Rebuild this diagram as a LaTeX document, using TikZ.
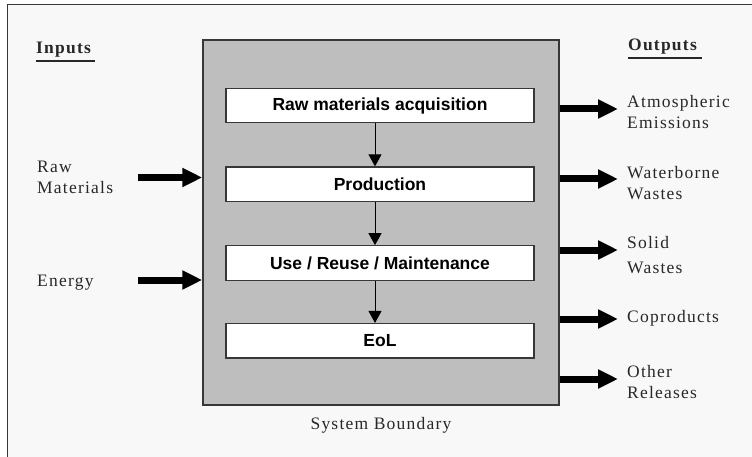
\documentclass[tikz,border=0pt]{standalone}
\usepackage{fontspec}
\setmainfont{Liberation Serif}
\setsansfont{Liberation Sans}
\usetikzlibrary{arrows.meta,positioning}
\definecolor{pagegray}{RGB}{248,248,248}
\definecolor{boxgray}{RGB}{190,190,190}
\definecolor{edgegray}{RGB}{55,55,55}
\definecolor{labelgray}{RGB}{40,40,40}
\begin{document}
\begin{tikzpicture}[x=1pt,y=-1pt,
  stage/.style={draw=edgegray,line width=1.2pt,fill=white,minimum width=308pt,
    minimum height=34.5pt,inner sep=0pt,font=\sffamily\bfseries\fontsize{17.5}{20}\selectfont},
  flowlbl/.style={anchor=west,align=left,inner sep=0pt,text=labelgray,
    font=\fontsize{17.5}{21}\selectfont\addfontfeature{LetterSpace=7}},
  headlbl/.style={flowlbl,font=\bfseries\fontsize{17.5}{21}\selectfont\addfontfeature{LetterSpace=7}},
  fatarrow/.style={line width=7pt,-{Triangle[length=20pt,width=18pt]}},
  steparrow/.style={line width=1pt,-{Triangle[length=12pt,width=13pt]}}]
\useasboundingbox (0,0) rectangle (752,457);
\fill[white](0,0) rectangle (752,457);
\fill[pagegray](7,5) rectangle (752,457);
\draw[edgegray,line width=1pt](7,457)--(7,5)--(752,5);
\node[draw=edgegray,line width=1.5pt,fill=boxgray,minimum width=356pt,minimum height=365pt,inner sep=0pt](sys) at (381,222.5){};
\node[stage](s1) at (380,105.5){Raw materials acquisition};
\node[stage](s2) at (380,184.2){Production};
\node[stage](s3) at (380,263){Use / Reuse / Maintenance};
\node[stage](s4) at (380,340.8){EoL};
\draw[steparrow]([xshift=-5pt]s1.south)--([xshift=-5pt]s2.north);
\draw[steparrow]([xshift=-5pt]s2.south)--([xshift=-5pt]s3.north);
\draw[steparrow]([xshift=-5pt]s3.south)--([xshift=-5pt]s4.north);
\node[flowlbl,anchor=center](bound) at (381,425){System Boundary};
% inputs
\node[headlbl](inputs) at (36,50){Inputs};
\draw[labelgray,line width=1.5pt](inputs.south west)++(0,3)--++(59,0);
\node[flowlbl](rawlbl) at (37,177.5){Raw\\Materials};
\node[flowlbl](energylbl) at (37,283){Energy};
\coordinate (iRaw) at (138,177.5);
\coordinate (iEnergy) at (138,280);
\draw[fatarrow](iRaw)--(sys.west|-iRaw);
\draw[fatarrow](iEnergy)--(sys.west|-iEnergy);
% outputs
\node[headlbl](outputs) at (628,47){Outputs};
\draw[labelgray,line width=1.5pt](outputs.south west)++(0,3)--++(74,0);
\node[flowlbl](atmlbl) at (627,112){Atmospheric\\Emissions};
\node[flowlbl](waterlbl) at (627,183){Waterborne\\Wastes};
\node[flowlbl](solidlbl) at (627,255.5){Solid\\[4pt]Wastes};
\node[flowlbl](coplbl) at (627,318){Coproducts};
\node[flowlbl](otherlbl) at (627,382.5){Other\\Releases};
\coordinate (oAtm) at (618,109);
\coordinate (oWater) at (618,179);
\coordinate (oSolid) at (618,250);
\coordinate (oCop) at (618,319);
\coordinate (oOther) at (618,379);
\foreach \o in {oAtm,oWater,oSolid,oCop,oOther}
  \draw[fatarrow](sys.east|-\o)--(\o);
\end{tikzpicture}
\end{document}
